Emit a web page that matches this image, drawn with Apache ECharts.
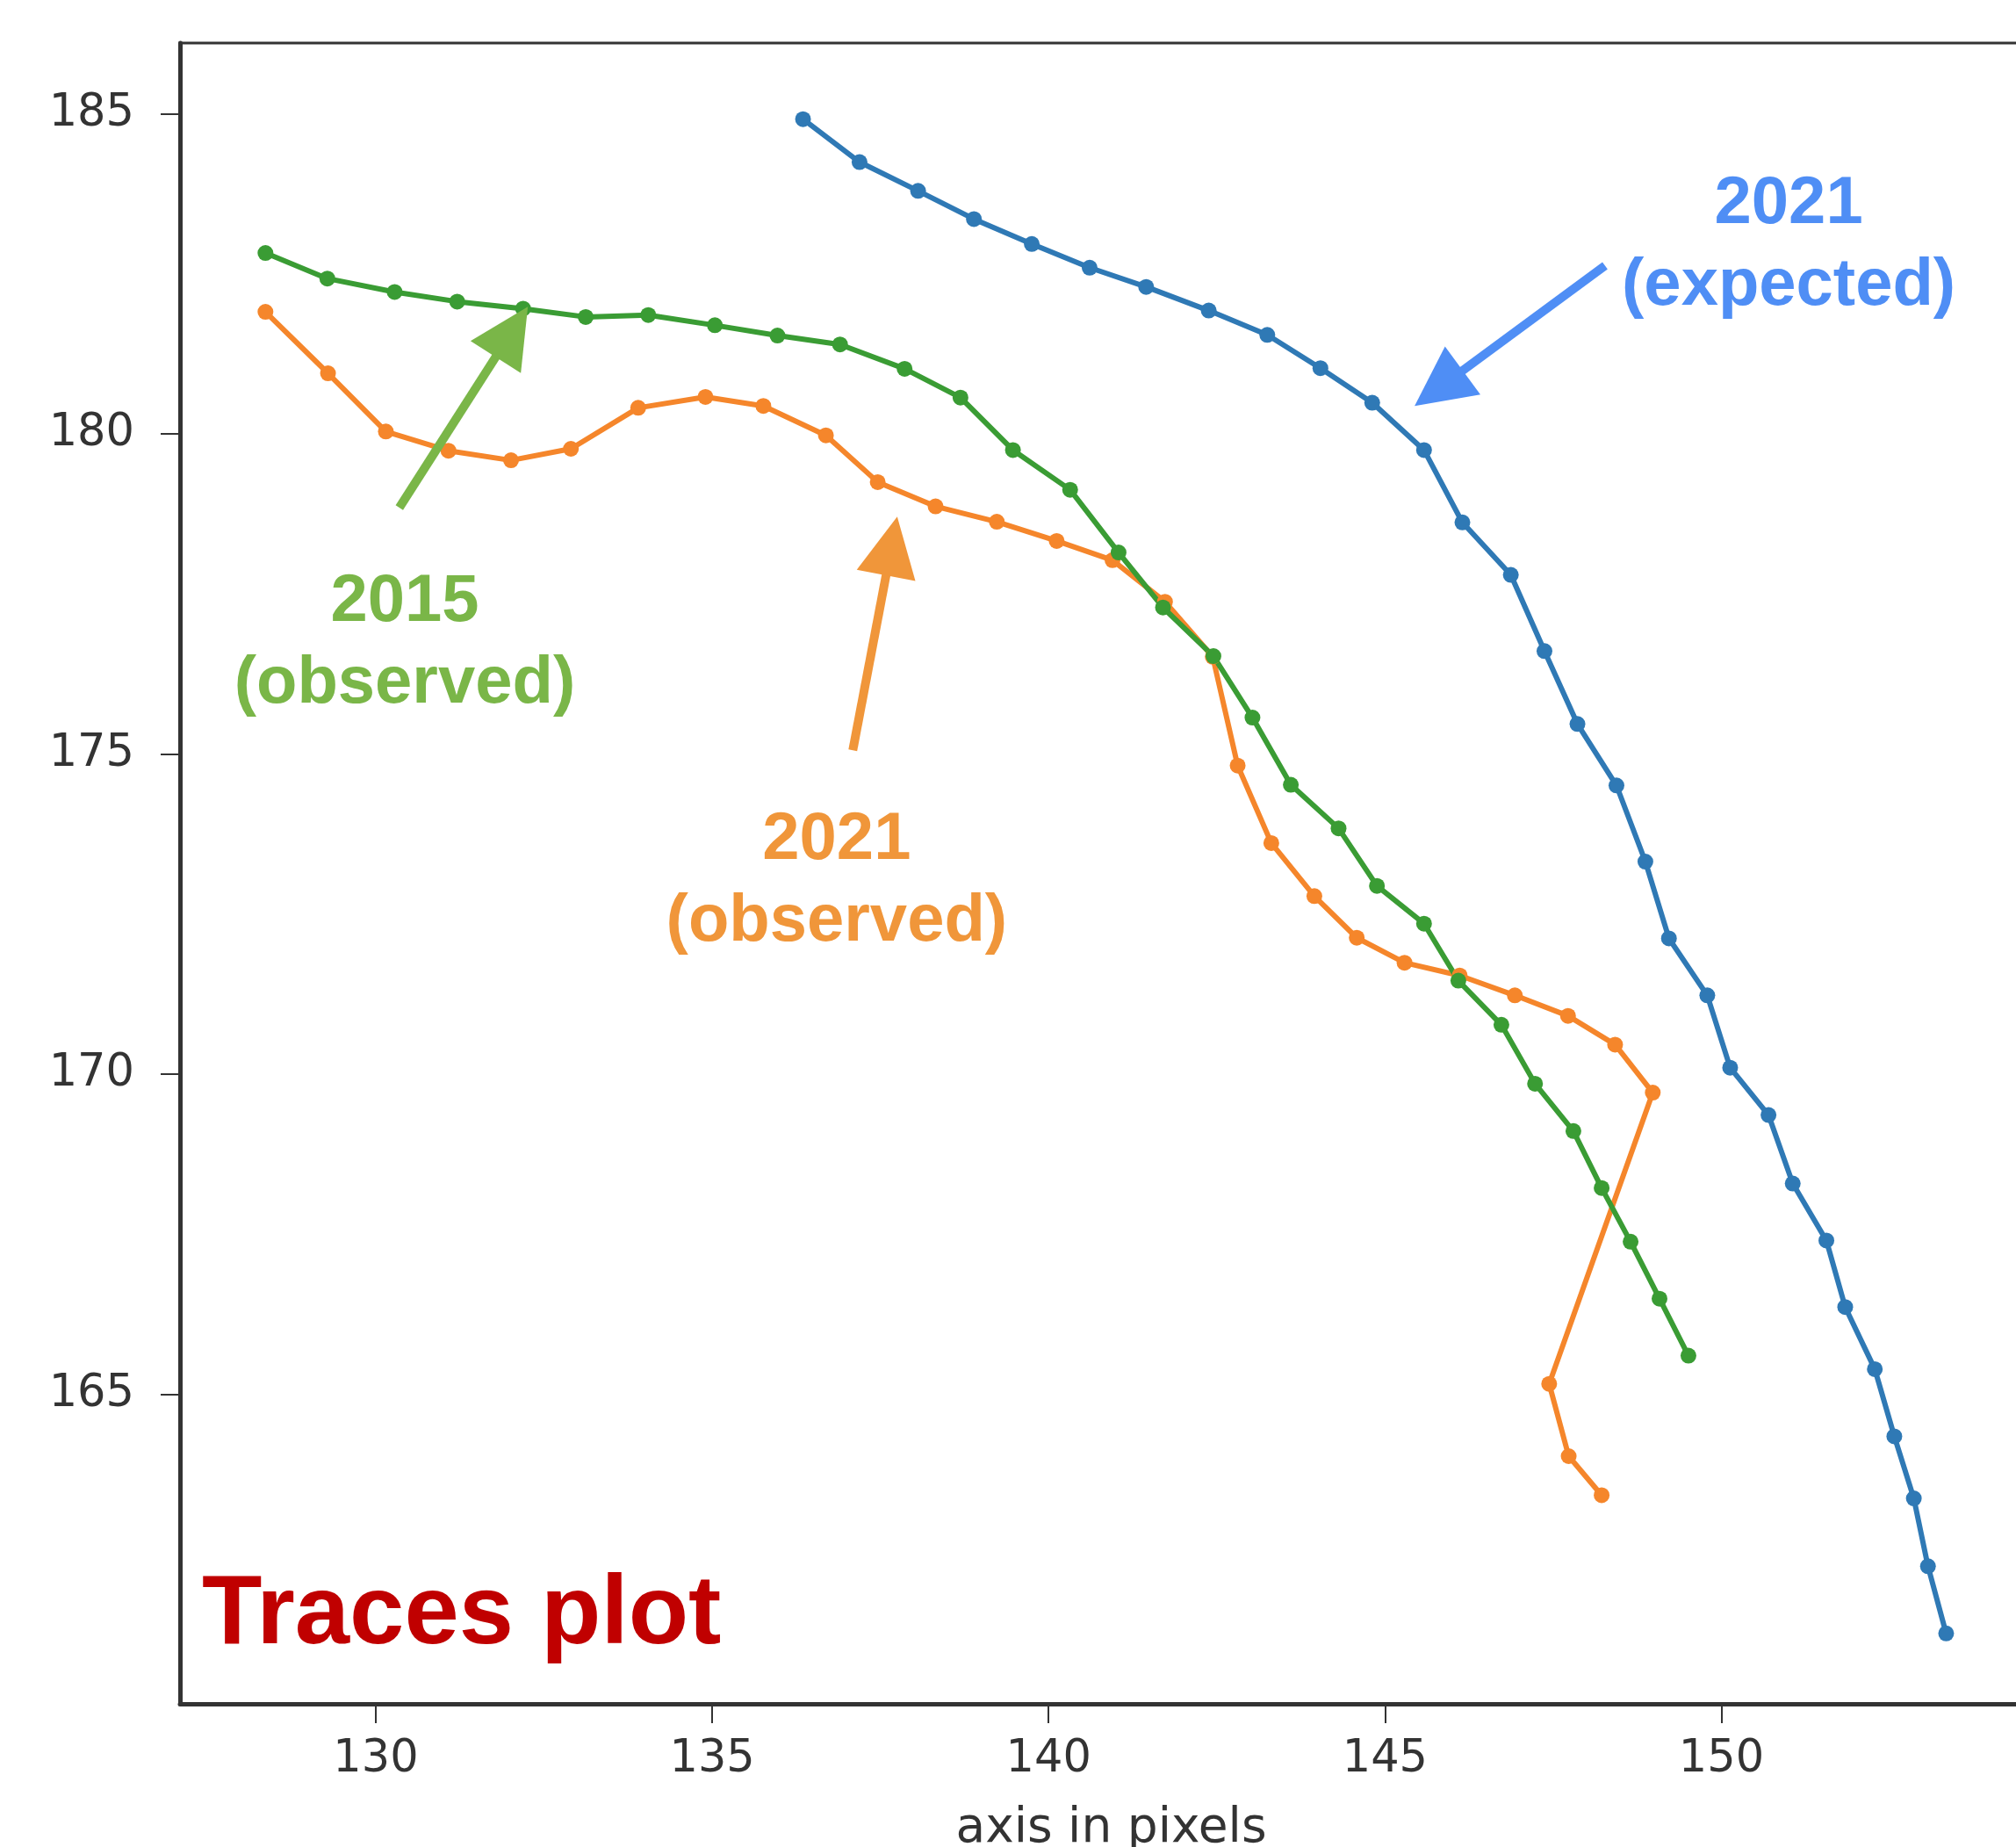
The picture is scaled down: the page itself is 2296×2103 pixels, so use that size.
<!DOCTYPE html>
<html>
<head>
<meta charset="utf-8">
<script src="https://cdn.jsdelivr.net/npm/echarts@6/dist/echarts.min.js"></script>
<style>
    html, body {margin: 0; padding: 0; background: #fff; overflow: hidden;}
    #main {width: 2296px; height: 2103px;}
</style>
</head>
<body>
<div id="main"></div>
<script>
// traces (x, y in pixels)
const expectedX = [136.35, 137.19, 138.06, 138.89, 139.75, 140.61, 141.45, 142.38, 143.25, 144.04, 144.81, 145.58, 146.15, 146.87, 147.37,
    147.86, 148.44, 148.87, 149.22, 149.79, 150.13, 150.70, 151.06, 151.56, 151.84, 152.28, 152.57, 152.86, 153.07, 153.34];
const expectedY = [184.92, 184.25, 183.80, 183.36, 182.97, 182.60, 182.30, 181.93, 181.55, 181.03, 180.49, 179.75, 178.62, 177.80, 176.61,
    175.47, 174.51, 173.32, 172.12, 171.23, 170.10, 169.36, 168.29, 167.40, 166.36, 165.39, 164.34, 163.37, 162.31, 161.26];

const obs2021X = [128.36, 129.29, 130.15, 131.08, 132.01, 132.90, 133.90, 134.90, 135.76, 136.69, 137.46, 138.32, 139.23, 140.12, 140.95,
    141.73, 142.44, 142.81, 143.31, 143.95, 144.58, 145.29, 146.11, 146.93, 147.72, 148.42, 148.98, 147.44, 147.73, 148.22];
const obs2021Y = [181.91, 180.95, 180.04, 179.74, 179.59, 179.77, 180.41, 180.58, 180.44, 179.98, 179.25, 178.87, 178.63, 178.33, 178.03,
    177.38, 176.52, 174.82, 173.61, 172.78, 172.13, 171.74, 171.54, 171.23, 170.91, 170.46, 169.71, 165.16, 164.03, 163.42];

const obs2015X = [128.36, 129.28, 130.28, 131.21, 132.19, 133.12, 134.05, 135.04, 135.97, 136.90, 137.86, 138.69, 139.47, 140.32, 141.04,
    141.70, 142.45, 143.03, 143.60, 144.31, 144.88, 145.58, 146.09, 146.73, 147.23, 147.80, 148.22, 148.65, 149.08, 149.51];
const obs2015Y = [182.83, 182.43, 182.22, 182.07, 181.96, 181.83, 181.86, 181.70, 181.54, 181.40, 181.02, 180.57, 179.75, 179.13, 178.15,
    177.29, 176.53, 175.57, 174.52, 173.84, 172.94, 172.35, 171.46, 170.77, 169.85, 169.11, 168.22, 167.38, 166.49, 165.60];

const xTicks = [130, 135, 140, 145, 150];
const yTicks = [165, 170, 175, 180, 185];

// annotations, in data units
const notes = [
    {text: '2021\n(expected)', at: [151.0, 182.95], color: '#4f8ef5'},
    {text: '2015\n(observed)', at: [130.43, 176.73], color: '#7ab648'},
    {text: '2021\n(observed)', at: [136.85, 173.01], color: '#f0963a'}
];
const arrows = [
    {from: [148.27, 182.63], to: [145.44, 180.44], color: '#4f8ef5'},
    {from: [130.35, 178.85], to: [132.26, 181.99], color: '#7ab648'},
    {from: [137.09, 175.06], to: [137.75, 178.71], color: '#f0963a'}
];

function zip(xs, ys) {
    return xs.map((x, i) => [x, ys[i]]);
}

function trace(name, xs, ys, color) {
    return {
        name: name,
        type: 'line',
        data: zip(xs, ys),
        symbol: 'circle',
        symbolSize: 18,
        showSymbol: true,
        lineStyle: {color: color, width: 6},
        itemStyle: {color: color},
        emphasis: {disabled: true}
    };
}

const tickFont = {fontFamily: 'DejaVu Sans', fontSize: 51, color: '#333'};

const option = {
    animation: false,
    backgroundColor: '#fff',
    grid: {
        left: 205, top: 49, right: -30, bottom: 163,
        outerBoundsMode: 'none',
        containLabel: false,
        show: true, borderColor: '#333', borderWidth: 3
    },
    xAxis: {
        type: 'value',
        min: 127.09, max: 154.77,
        name: 'axis in pixels',
        nameLocation: 'middle',
        nameGap: 143,
        nameTextStyle: {fontFamily: 'DejaVu Sans', fontSize: 55, color: '#333', verticalAlign: 'middle'},
        splitLine: {show: false},
        axisLine: {lineStyle: {color: '#333', width: 5}},
        axisTick: {customValues: xTicks, length: 22, lineStyle: {color: '#333', width: 2}},
        axisLabel: Object.assign({customValues: xTicks, margin: 38}, tickFont)
    },
    yAxis: {
        type: 'value',
        min: 160.16, max: 186.11,
        splitLine: {show: false},
        axisLine: {lineStyle: {color: '#333', width: 5}},
        axisTick: {customValues: yTicks, length: 22, lineStyle: {color: '#333', width: 2}},
        axisLabel: Object.assign({customValues: yTicks, margin: 52}, tickFont)
    },
    series: [
        trace('2021 expected', expectedX, expectedY, '#2f79b5'),
        trace('2021 observed', obs2021X, obs2021Y, '#f5862b'),
        trace('2015 observed', obs2015X, obs2015Y, '#3a9c34')
    ]
};

const chart = echarts.init(document.getElementById('main'));
chart.setOption(option);

const toPx = p => chart.convertToPixel({gridIndex: 0}, p);
const graphics = [];
const headLen = 68, headHalf = 34;

arrows.forEach(a => {
    let t = toPx(a.from), h = toPx(a.to);
    let dx = h[0] - t[0], dy = h[1] - t[1];
    let len = Math.sqrt(dx * dx + dy * dy);
    let ux = dx / len, uy = dy / len;
    let bx = h[0] - ux * headLen, by = h[1] - uy * headLen;
    graphics.push({
        type: 'line',
        shape: {x1: t[0], y1: t[1], x2: bx + ux * 4, y2: by + uy * 4},
        style: {stroke: a.color, lineWidth: 10},
        z: 200
    });
    graphics.push({
        type: 'polygon',
        shape: {points: [h, [bx - uy * headHalf, by + ux * headHalf], [bx + uy * headHalf, by - ux * headHalf]]},
        style: {fill: a.color},
        z: 200
    });
});

notes.forEach(n => {
    let p = toPx(n.at);
    graphics.push({
        type: 'text',
        x: p[0], y: p[1],
        style: {
            text: n.text,
            fill: n.color,
            fontFamily: 'Liberation Sans',
            fontWeight: 'bold',
            fontSize: 76,
            lineHeight: 93,
            align: 'center',
            verticalAlign: 'middle'
        },
        z: 200
    });
});

graphics.push({
    type: 'text',
    x: 230, y: 1840,
    style: {
        text: 'Traces plot',
        fill: '#c00000',
        fontFamily: '"Liberation Sans Narrow", "Liberation Sans"',
        fontWeight: 'bold',
        fontSize: 112,
        align: 'left',
        verticalAlign: 'middle'
    },
    z: 200
});

chart.setOption({graphic: graphics});
</script>
</body>
</html>
